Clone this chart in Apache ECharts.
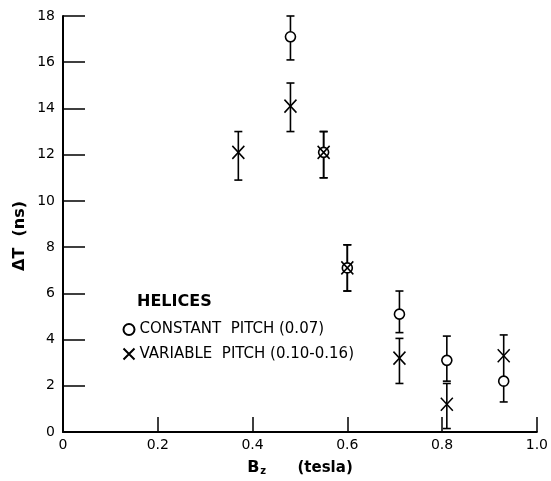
<!DOCTYPE html>
<html>
<head>
<meta charset="utf-8">
<script src="https://cdn.jsdelivr.net/npm/echarts@6/dist/echarts.min.js"></script>
<style>
html,body{margin:0;padding:0;background:#fff;}
#chart{width:551px;height:481px;}
</style>
</head>
<body>
<div id="chart"></div>
<script>
// Data
const xTickLabels = ["0", "0.2", "0.4", "0.6", "0.8", "1.0"];
const yTickLabels = ["0", "2", "4", "6", "8", "10", "12", "14", "16", "18"];

// Constant pitch (0.07) - circles
const xConst = [0.48, 0.55, 0.60, 0.71, 0.81, 0.93];
const yConst = [17.1, 12.1, 7.1, 5.1, 3.1, 2.2];
const loConst = [16.1, 11.0, 6.1, 4.3, 2.2, 1.3];
const hiConst = [18.0, 13.0, 8.1, 6.1, 4.15, 2.3];

// Variable pitch (0.10-0.16) - crosses
const xVar = [0.37, 0.48, 0.55, 0.60, 0.71, 0.81, 0.93];
const yVar = [12.1, 14.1, 12.1, 7.1, 3.2, 1.2, 3.3];
const loVar = [10.9, 13.0, 11.0, 6.1, 2.1, 0.15, 2.3];
const hiVar = [13.0, 15.1, 13.0, 8.1, 4.05, 2.1, 4.2];

const FONT = 'DejaVu Sans';
const chart = echarts.init(document.getElementById('chart'), null, {renderer: 'canvas'});

function errRender(params, api) {
  const x = api.value(0), lo = api.value(1), hi = api.value(2);
  const p1 = api.coord([x, lo]);
  const p2 = api.coord([x, hi]);
  const w = 4;
  const st = {stroke: '#000', lineWidth: 1.6};
  return {
    type: 'group',
    children: [
      {type: 'line', shape: {x1: p1[0], y1: p1[1], x2: p2[0], y2: p2[1]}, style: st},
      {type: 'line', shape: {x1: p1[0] - w, y1: p1[1], x2: p1[0] + w, y2: p1[1]}, style: st},
      {type: 'line', shape: {x1: p2[0] - w, y1: p2[1], x2: p2[0] + w, y2: p2[1]}, style: st}
    ]
  };
}

const option = {
  animation: false,
  backgroundColor: '#fff',
  grid: {left: 63, right: 13, top: 16, bottom: 47, containLabel: false},
  xAxis: {
    type: 'value', min: 0, max: 1.0, interval: 0.2,
    axisLine: {show: true, onZero: false, lineStyle: {color: '#000', width: 2}},
    axisTick: {show: true, inside: true, length: 15, lineStyle: {color: '#000', width: 1.5}},
    splitLine: {show: false},
    axisLabel: {
      color: '#000', fontFamily: FONT, fontSize: 14, margin: 6,
      formatter: function (v) { return xTickLabels[Math.round(v / 0.2)]; }
    },
    name: '{b|B}{s|z}{t|      (tesla)}',
    nameLocation: 'middle', nameGap: 28,
    nameTextStyle: {
      rich: {
        b: {fontFamily: FONT, fontSize: 16, fontWeight: 'bold', color: '#000'},
        s: {fontFamily: FONT, fontSize: 10, fontWeight: 'bold', color: '#000', verticalAlign: 'bottom', padding: [6, 0, 0, 1]},
        t: {fontFamily: FONT, fontSize: 15, fontWeight: 'bold', color: '#000'}
      }
    }
  },
  yAxis: {
    type: 'value', min: 0, max: 18, interval: 2,
    axisLine: {show: true, onZero: false, lineStyle: {color: '#000', width: 2}},
    axisTick: {show: true, inside: true, length: 22, lineStyle: {color: '#000', width: 1.5}},
    splitLine: {show: false},
    axisLabel: {
      color: '#000', fontFamily: FONT, fontSize: 14, margin: 8,
      formatter: function (v) { return yTickLabels[Math.round(v / 2)]; }
    }
  },
  legend: {
    orient: 'vertical', left: 116, top: 317, itemGap: 9,
    itemWidth: 11, itemHeight: 12,
    textStyle: {fontFamily: FONT, fontSize: 15, color: '#000'},
    data: ['CONSTANT  PITCH (0.07)', 'VARIABLE  PITCH (0.10-0.16)']
  },
  graphic: [
    {type: 'text', left: 137, top: 294, style: {text: 'HELICES', font: 'bold 16px "DejaVu Sans"', fill: '#000'}},
    {type: 'text', x: 20, y: 236, rotation: Math.PI / 2, style: {text: 'ΔT  (ns)', font: 'bold 16px "DejaVu Sans"', fill: '#000', align: 'center', verticalAlign: 'middle'}}
  ],
  series: [
    {
      type: 'custom', name: 'errConst', renderItem: errRender, z: 2,
      encode: {x: 0, y: [1, 2]},
      data: xConst.map((x, i) => [x, loConst[i], hiConst[i]])
    },
    {
      type: 'custom', name: 'errVar', renderItem: errRender, z: 2,
      encode: {x: 0, y: [1, 2]},
      data: xVar.map((x, i) => [x, loVar[i], hiVar[i]])
    },
    {
      type: 'scatter', name: 'CONSTANT  PITCH (0.07)', z: 3,
      symbol: 'circle', symbolSize: 10,
      itemStyle: {color: '#fff', borderColor: '#000', borderWidth: 1.6, opacity: 1},
      data: xConst.map((x, i) => [x, yConst[i]])
    },
    {
      type: 'scatter', name: 'VARIABLE  PITCH (0.10-0.16)', z: 4,
      symbol: 'path://M0,0L10,10M10,0L0,10', symbolSize: [12, 13],
      itemStyle: {color: 'none', borderColor: '#000', borderWidth: 1.6, opacity: 1},
      data: xVar.map((x, i) => [x, yVar[i]])
    }
  ]
};
chart.setOption(option);
</script>
</body>
</html>
